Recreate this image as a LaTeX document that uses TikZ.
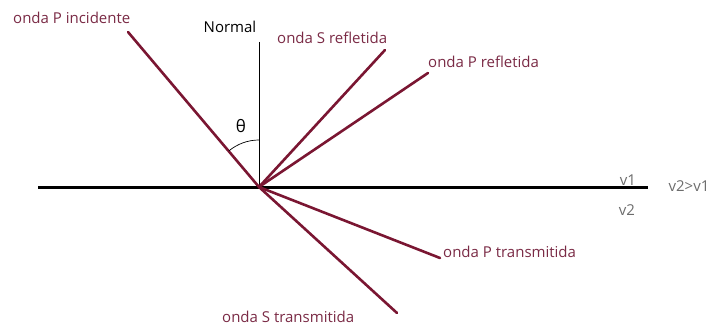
\documentclass[tikz,border=0pt]{standalone}
\usepackage{fontspec}
\setmainfont{Open Sans}
\usepackage{tikz}
\usetikzlibrary{arrows.meta,calc,positioning}
\definecolor{raio}{HTML}{7A1632}
\definecolor{rotulo}{HTML}{7A2A45}
\tikzset{ray/.style={raio,line width=2.6pt,line cap=round},
  lbl/.style={rotulo,inner sep=1pt},
  vel/.style={gray!85!black,inner sep=1pt}}

\begin{document}
\begin{tikzpicture}[x=1pt,y=-1pt,line join=round,font=\fontsize{15}{17}\selectfont]
\useasboundingbox (0,0) rectangle (716,329);
% --- interface and normal
\coordinate (O) at (259,187);
\coordinate (esq) at (38,187); \coordinate (dir) at (648,187);
\coordinate (topo) at (259,42);
\draw[line width=3pt] (esq) -- (dir);
\draw[line width=0.9pt] (topo) -- (O);
\node[inner sep=1pt] (normal) at (230,27) {Normal};
% --- rays
\coordinate (inc) at (128,32); \coordinate (sref) at (385,50); \coordinate (pref) at (428,73);
\coordinate (ptra) at (440,258); \coordinate (stra) at (397,313);
\draw[ray] (inc) -- (O);
\draw[ray] (O) -- (sref); \draw[ray] (O) -- (pref);
\draw[ray] (O) -- (ptra); \draw[ray] (O) -- (stra);
% --- angle
\draw[line width=0.7pt] ($(O)+(0,-47)$) arc[start angle=-90,end angle=-130,radius=47];
\node[inner sep=1pt,font=\fontsize{17}{19}\selectfont] (theta) at (241,126) {θ};
% --- labels
\node[lbl,anchor=west] (lInc) at (12,18) {onda P incidente};
\node[lbl,anchor=west] (lSref) at (276,38) {onda S refletida};
\node[lbl,anchor=west] (lPref) at (427,62) {onda P refletida};
\node[lbl,anchor=west] (lPtra) at (442,252) {onda P transmitida};
\node[lbl,anchor=west] (lStra) at (221,317) {onda S transmitida};
\node[vel] (v1) at (628,180) {v1};
\node[vel] (v2) at (627,210) {v2};
\node[vel] (vrel) at (689,186) {v2>v1};
\end{tikzpicture}
\end{document}
